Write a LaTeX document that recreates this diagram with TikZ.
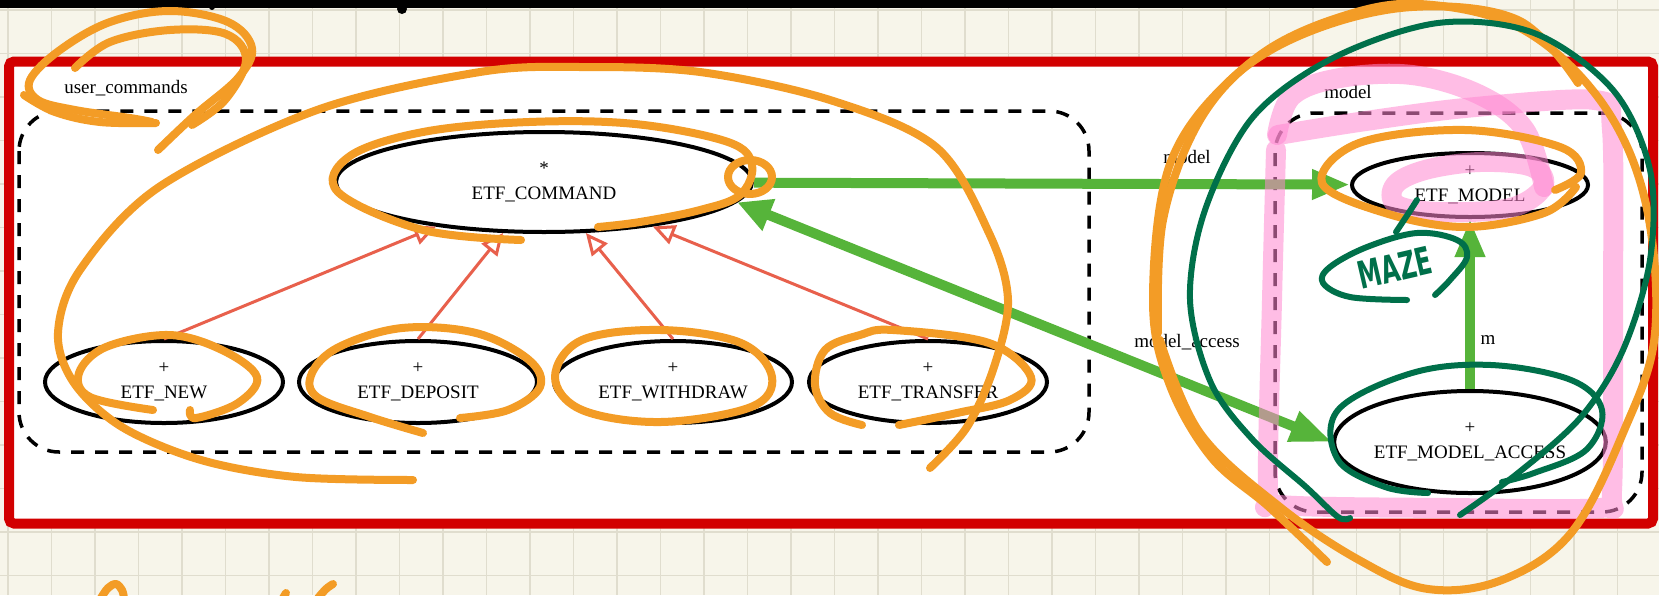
\documentclass[tikz,border=0pt]{standalone}
\usepackage{fontspec}
\setmainfont{Liberation Serif}
\newfontfamily\penfont{DejaVu Sans}[FakeStretch=0.62]
\usepackage{tikz}
\usetikzlibrary{shapes.geometric}
\usetikzlibrary{arrows.meta}
\usepackage{xcolor}
\definecolor{paper}{RGB}{247,245,234}
\definecolor{gridcol}{RGB}{224,221,206}
\definecolor{framered}{RGB}{210,0,0}
\definecolor{inhcol}{RGB}{232,96,76}
\definecolor{clientcol}{RGB}{86,180,58}
\definecolor{penorange}{RGB}{243,156,38}
\definecolor{pengreen}{RGB}{0,112,74}
\definecolor{penpink}{RGB}{255,136,209}
\tikzset{
	gridline/.style={gridcol,line width=1.5pt},
	cls/.style={ellipse,draw=black,line width=4pt,fill=white,inner sep=0pt,
		align=center,font=\fontsize{19}{25}\selectfont},
	cluster/.style={draw,line width=3.5pt,dash pattern=on 13pt off 11pt,rounded corners=40pt},
	lbl/.style={font=\fontsize{19}{22}\selectfont,inner sep=0pt},
	inherit/.style={draw=inhcol,line width=3pt,-{Triangle[open,length=22pt,width=20pt,fill=white]}},
	client/.style={draw=clientcol,line width=10pt,-{Triangle[length=38pt,width=28pt]}},
	orangepen/.style={penorange,line width=8pt,line cap=round,line join=round},
	greenpen/.style={pengreen,line width=6pt,line cap=round,line join=round},
	pinkpen/.style={penpink,line width=20pt,line cap=round,line join=round,opacity=0.55},
}

\begin{document}
\begin{tikzpicture}[x=1pt,y=-1pt]
	% PAPER
	\fill[paper] (0,0) rectangle (1659,595);
	\useasboundingbox (0,0) rectangle (1659,595);
	\foreach \k in {0,...,37} \draw[gridline] (8+43.5*\k,0) -- ++(0,595);
	\foreach \k in {0,...,13} \draw[gridline] (0,10+43.5*\k) -- ++(1659,0);
	\draw[line width=8pt] (0,4) -- (1412,4);
	\fill (212,7) circle (3pt) (402,9) circle (5pt);
	
	% FRAME AND CLUSTERS
	\draw[framered,line width=10pt,fill=white,rounded corners=5pt] (9,61.5) rectangle (1653,523.5);
	\draw[cluster] (19,111) rectangle (1089,452);
	\draw[cluster] (1275,113) rectangle (1642,512);
	\node[lbl] (ucmd) at (126,88) {user\_commands};
	\node[lbl] (mdl) at (1348,92) {model};
	
	% CLASSES
	\node[cls,minimum width=416pt,minimum height=100pt] (cmd) at (544,182) {*\\ETF\_COMMAND};
	\node[cls,minimum width=238pt,minimum height=82pt] (new) at (164,382) {+\\ETF\_NEW};
	\node[cls,minimum width=238pt,minimum height=82pt] (deposit) at (418,382) {+\\ETF\_DEPOSIT};
	\node[cls,minimum width=238pt,minimum height=82pt] (withdraw) at (673,382) {+\\ETF\_WITHDRAW};
	\node[cls,minimum width=238pt,minimum height=82pt] (transfer) at (928,382) {+\\ETF\_TRANSFER};
	\node[cls,minimum width=236pt,minimum height=64pt] (model) at (1470,185) {+\\ETF\_MODEL};
	\node[cls,minimum width=260pt,minimum height=102pt] (access) at (1470,442) {+\\ETF\_MODEL\_ACCESS};
	
	% INHERITANCE
	\foreach \c in {new,deposit,withdraw,transfer}
		\draw[inherit] (\c.north) -- (cmd);
	
	% CLIENTS
	\draw[client] (cmd) -- (model);
	\draw[client,{Triangle[length=34pt,width=32pt]}-{Triangle[length=42pt,width=30pt]}] (cmd.-6) -- (access.west);
	\draw[client] (access) -- (model);
	\node[lbl] (lmodel) at (1187,157) {model};
	\node[lbl] (laccess) at (1187,342) {model\_access};
	\node[lbl] (lm) at (1488,340) {m};
	
	% HIGHLIGHTER
	\draw[pinkpen] plot[smooth,tension=0.6] coordinates {(1277,135) (1292,96) (1340,78) (1412,75) (1480,95) (1525,130) (1544,187)};
	\draw[pinkpen] plot[smooth,tension=0.5] coordinates {(1278,135) (1359,122) (1465,108) (1595,100) (1612,130) (1613,300) (1612,490) (1600,508) (1450,508) (1280,505) (1268,490) (1272,300) (1276,150)};
	\draw[pinkpen] plot[smooth cycle,tension=0.6] coordinates {(1397,205) (1395,185) (1425,170) (1480,162) (1532,167) (1543,187) (1510,208) (1440,212)};
	
	% ORANGE PEN
	\draw[orangepen] plot[smooth,tension=0.6] coordinates {(158,150) (195,115) (238,78) (252,48) (228,22) (170,11) (110,22) (60,50) (30,80) (38,100) (75,110) (130,118) (152,122)};
	\draw[orangepen] plot[smooth,tension=0.6] coordinates {(75,68) (110,42) (170,30) (226,34) (246,60) (225,100) (192,125)};
	\draw[orangepen] plot[smooth,tension=0.6] coordinates {(24,95) (55,112) (100,122) (156,123)};
	\draw[orangepen] plot[smooth,tension=0.55] coordinates {(930,468) (967,427) (994,367) (1008,300) (989,233) (936,147) (830,100) (700,72) (582,67) (480,72) (317,110) (159,187) (80,270) (58,333) (74,383) (122,427) (201,460) (296,477) (413,480)};
	\draw[orangepen] plot[smooth,tension=0.6] coordinates {(598,227) (640,222) (700,210) (740,195) (752,165) (728,142) (635,124) (529,122) (423,132) (350,156) (338,192) (423,230) (521,240)};
	\draw[orangepen] (750,177) ellipse (22pt and 17pt);
	\draw[orangepen] plot[smooth,tension=0.6] coordinates {(153,410) (90,397) (79,373) (106,347) (169,335) (222,350) (257,377) (238,403) (196,418) (190,410)};
	\draw[orangepen] plot[smooth,tension=0.6] coordinates {(423,433) (370,417) (317,397) (312,373) (339,347) (402,328) (476,333) (529,360) (540,387) (508,410) (460,418)};
	\draw[orangepen] plot[smooth cycle,tension=0.6] coordinates {(555,377) (582,340) (661,330) (741,343) (772,377) (751,407) (661,422) (582,410)};
	\draw[orangepen] plot[smooth,tension=0.6] coordinates {(862,425) (830,413) (815,385) (825,350) (860,335) (893,330) (989,343) (1031,377) (1010,400) (957,413) (899,425)};
	\draw[orangepen] plot[smooth,tension=0.6] coordinates {(1578,83) (1518,20) (1412,7) (1306,33) (1227,83) (1169,167) (1153,300) (1169,383) (1211,457) (1269,507) (1327,562)};
	\draw[orangepen] plot[smooth,tension=0.6] coordinates {(1158,333) (1163,220) (1200,120) (1260,55) (1340,17) (1420,4) (1520,28) (1600,100) (1645,200) (1655,333) (1623,433) (1571,533) (1502,580) (1428,589) (1359,560) (1280,507) (1200,433) (1160,340)};
	\draw[orangepen] plot[smooth,tension=0.6] coordinates {(1555,190) (1581,173) (1560,147) (1465,130) (1359,143) (1322,183) (1385,213) (1465,227) (1544,213) (1576,187)};
	\draw[orangepen] plot[smooth,tension=0.6] coordinates {(101,598) (108,588) (116,584) (122,590) (124,598)};
	\draw[orangepen] (283,598) -- (286,593);
	\draw[orangepen] plot[smooth,tension=0.6] coordinates {(318,598) (326,589) (333,584)};
	
	% GREEN PEN
	\draw[greenpen] plot[smooth,tension=0.55] coordinates {(1460,515) (1518,473) (1581,417) (1623,350) (1650,260) (1650,170) (1613,90) (1534,33) (1438,23) (1333,58) (1253,117) (1205,210) (1190,300) (1211,383) (1253,440) (1306,487) (1338,517) (1350,518)};
	\draw[greenpen] plot[smooth,tension=0.6] coordinates {(1428,493) (1385,487) (1338,460) (1338,410) (1412,373) (1491,365) (1571,380) (1602,410) (1586,450) (1534,473) (1502,482)};
	\draw[greenpen] plot[smooth,tension=0.6] coordinates {(1407,300) (1350,297) (1323,283) (1330,267) (1367,247) (1417,233) (1457,240) (1467,257) (1450,280) (1435,295)};
	\draw[greenpen] plot[smooth,tension=0.6] coordinates {(1417,200) (1408,214) (1396,232)};
	\node[pengreen,rotate=13,inner sep=0pt,font=\penfont\bfseries\fontsize{38}{38}\selectfont] (maze) at (1395,268) {MAZE};
\end{tikzpicture}
\end{document}
